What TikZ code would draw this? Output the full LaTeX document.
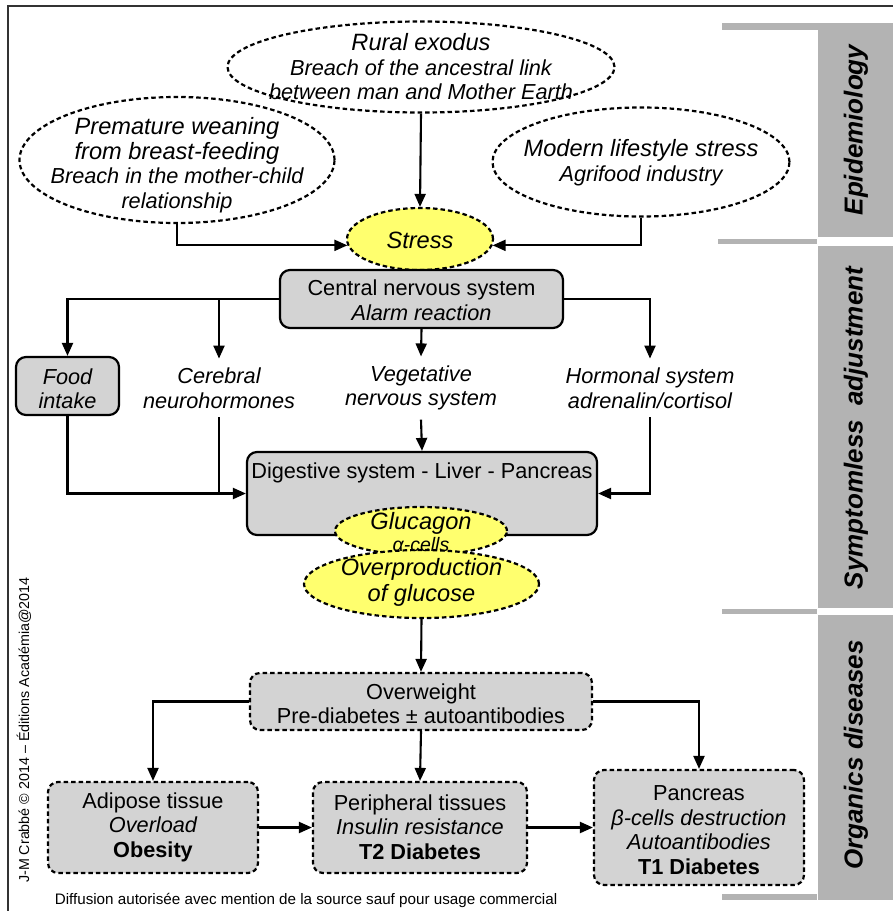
\documentclass[tikz,border=0pt]{standalone}
\usepackage{fontspec}
\setmainfont{Liberation Sans}
\usetikzlibrary{shapes.geometric,arrows.meta}
\definecolor{boxgray}{RGB}{211,211,211}
\definecolor{bandgray}{RGB}{179,179,179}
\definecolor{stressyellow}{RGB}{255,255,110}
\newcommand{\bigline}{\fontsize{23.6}{26}\selectfont}
\newcommand{\smallline}{\fontsize{21.7}{24.5}\selectfont}
\tikzset{
  diagram/.style={
    x=1pt, y=-1pt,
    cause/.style={ellipse, draw, line width=2.2pt, dash pattern=on 4.5pt off 3pt, inner sep=0pt},
    hot/.style={cause, fill=stressyellow},
    organ/.style={draw, line width=2.2pt, rounded corners=10pt, fill=boxgray, inner sep=0pt},
    disease/.style={organ, dash pattern=on 4.5pt off 3pt},
    caption/.style={align=center, font=\smallline, inner sep=3pt},
    hint/.style={caption, font=\smallline\itshape},
    branch/.style={hint, inner ysep=9pt},
    link/.style={-{Triangle[length=13pt,width=11pt]}, line width=2.1pt},
    band/.style={fill=bandgray, draw=none},
    bandtext/.style={rotate=90, font=\fontsize{26}{28}\selectfont\bfseries\itshape},
  }
}

\begin{document}
\begin{tikzpicture}[diagram]
  \useasboundingbox (0,0) rectangle (893,911);
  \draw[line width=1.6pt, draw=black!80] (8,911) -- (8,6) -- (893,6);

  % phases on the right
  \fill[band] (818,23) rectangle (893,237);
  \fill[band] (722,23) rectangle (818,30);
  \fill[band] (718,239) rectangle (817,244);
  \fill[band] (818,246) rectangle (893,608);
  \fill[band] (722,609) rectangle (817,614);
  \fill[band] (818,615) rectangle (893,900);
  \fill[band] (722,894) rectangle (817,900);
  \node[bandtext] (epi) at (856,130) {Epidemiology};
  \node[bandtext] (sympt) at (856,428) {Symptomless\ \ adjustment};
  \node[bandtext] (organics) at (856,755) {Organics diseases};

  % epidemiology
  \node[cause, minimum width=387pt, minimum height=91pt] (rural) at (421,67) {};
  \node[hint] (rural-text) at (421,67)
    {\bigline Rural exodus\\ \smallline Breach of the ancestral link\\ \smallline between man and Mother Earth};
  \node[cause, minimum width=315pt, minimum height=126pt] (weaning) at (177,160) {};
  \node[hint] (weaning-text) at (177,165)
    {\bigline Premature weaning\\ \bigline from breast-feeding\\ \smallline Breach in the mother-child\\ \smallline relationship};
  \node[cause, minimum width=297pt, minimum height=109pt] (lifestyle) at (641,162) {};
  \node[hint] (lifestyle-text) at (641,162.5)
    {\bigline Modern lifestyle stress\\ \smallline Agrifood industry};
  \node[hot, minimum width=146pt, minimum height=62pt] (stress) at (420,239) {};
  \node[caption, font=\bigline\itshape] (stress-text) at (420,240) {Stress};

  \draw[link] (rural.south) -- (stress.north);
  \draw[link] (weaning.south) |- (stress.185);
  \draw[link] (lifestyle.south) |- (stress.355);

  % symptomless adjustment
  \node[organ, minimum width=283pt, minimum height=58pt] (cns) at (421.5,299) {};
  \node[caption] (cns-text) at (421.5,300) {Central nervous system\\ \itshape Alarm reaction};
  \node[organ, minimum width=103pt, minimum height=58pt] (food) at (67.5,386) {};
  \node[hint] (food-text) at (67.5,388.5) {Food\\ intake};
  \node[branch] (cerebral) at (219,388) {Cerebral\\ neurohormones};
  \node[branch] (vegetative) at (421,388) {Vegetative\\ nervous system};
  \node[branch] (hormonal) at (650,388) {Hormonal system\\ adrenalin/cortisol};

  \draw[link] (cns.west) -| (food.north);
  \draw[link] (cns.west -| cerebral.north) -- (cerebral.north);
  \draw[link] (cns.south) -- (vegetative.north);
  \draw[link] (cns.east) -| (hormonal.north);

  \node[organ, minimum width=350pt, minimum height=83pt] (digest) at (422,493.5) {};
  \node[caption] (digest-text) at (422,473) {Digestive system - Liver - Pancreas};

  \draw[link] (food.south) |- (digest.west);
  \draw[line width=2.1pt] (cerebral.south) -- (cerebral.south |- digest.west);
  \draw[link] (vegetative.south) -- (digest.north);
  \draw[link] (hormonal.south) |- (digest.east);

  \node[hot, minimum width=172pt, minimum height=48pt] (glucagon) at (421,531) {};
  \node[hot, minimum width=235pt, minimum height=68pt] (overprod) at (421.5,584) {};
  \node[caption, font=\fontsize{23.6}{22}\selectfont\itshape] (glucagon-text) at (421,532)
    {Glucagon\\ \fontsize{19.5}{22}\selectfont α-cells};
  \node[caption, font=\bigline\itshape] (overprod-text) at (421.5,582.5) {Overproduction\\ of glucose};

  % organic diseases
  \node[disease, minimum width=342pt, minimum height=57pt] (overweight) at (421,701.5) {};
  \node[caption] (overweight-text) at (421,703.5) {Overweight\\ Pre-diabetes ± autoantibodies};
  \draw[link] (overprod.south) -- (overweight.north);

  \node[disease, minimum width=210pt, minimum height=91pt] (adipose) at (153,827.5) {};
  \node[caption] (adipose-text) at (153,827) {Adipose tissue\\ \itshape Overload\\ \bfseries Obesity};
  \node[disease, minimum width=214pt, minimum height=91pt] (peripheral) at (420,827.5) {};
  \node[caption] (peripheral-text) at (420,827) {Peripheral tissues\\ \itshape Insulin resistance\\ \bfseries T2 Diabetes};
  \node[disease, minimum width=210pt, minimum height=115pt] (pancreas) at (699,827.5) {};
  \node[caption] (pancreas-text) at (699,830)
    {Pancreas\\ \itshape β-cells destruction\\ \itshape Autoantibodies\\ \bfseries T1 Diabetes};

  \draw[link] (overweight.west) -| (adipose.north);
  \draw[link] (overweight.south) -- (peripheral.north);
  \draw[link] (overweight.east) -| (pancreas.north);
  \draw[link] (adipose.east) -- (peripheral.west);
  \draw[link] (peripheral.east) -- (pancreas.west);

  % credits
  \node[font=\fontsize{15.2}{17}\selectfont] (footer) at (306,900)
    {Diffusion autorisée avec mention de la source sauf pour usage commercial};
  \node[rotate=90, font=\fontsize{14.3}{16}\selectfont] (credit) at (24,730)
    {J-M Crabbé © 2014 – Éditions Académia@2014};
\end{tikzpicture}
\end{document}
